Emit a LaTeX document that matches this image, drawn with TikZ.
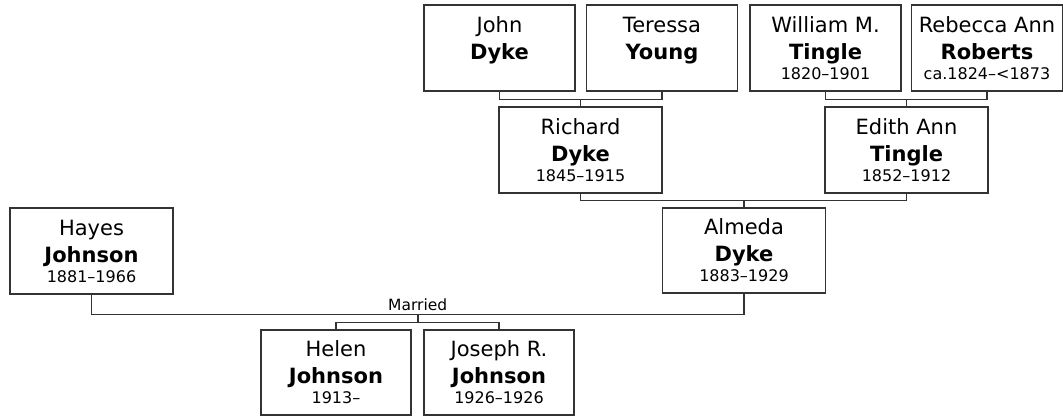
\documentclass[tikz,border=0pt]{standalone}
\usepackage{fontspec}
\setmainfont{DejaVu Sans}
\usetikzlibrary{calc}
\newcommand{\datesz}{\fontsize{16}{20}\selectfont}

\begin{document}
\begin{tikzpicture}[x=1pt,y=-1pt,
  every node/.style={font=\fontsize{21}{27}\selectfont},
  person/.style={draw=black!80,line width=1.4pt,align=center,inner sep=0pt,minimum width=151pt,minimum height=86pt},
  wide/.style={person,minimum width=163pt},
  link/.style={draw=black!80,line width=1.5pt},
  lbl/.style={font=\fontsize{15.5}{18}\selectfont}]
\useasboundingbox (0,0) rectangle (1063,416);
\node[person] (john) at (499.5,48) {John\\\textbf{Dyke}\\[-7pt]\datesz\phantom{0}};
\node[person] (teressa) at (662,48) {Teressa\\\textbf{Young}\\[-7pt]\datesz\phantom{0}};
\node[person] (william) at (825.5,48) {William M.\\\textbf{Tingle}\\[-7pt]\datesz 1820--1901};
\node[person] (rebecca) at (987,48) {Rebecca Ann\\\textbf{Roberts}\\[-7pt]\datesz ca.1824--<1873};
\node[wide] (richard) at (580.5,150) {Richard\\\textbf{Dyke}\\[-7pt]\datesz 1845--1915};
\node[wide] (edith) at (906.5,150) {Edith Ann\\\textbf{Tingle}\\[-7pt]\datesz 1852--1912};
\node[wide,minimum height=85pt] (almeda) at (744,250.5) {Almeda\\\textbf{Dyke}\\[-7pt]\datesz 1883--1929};
\node[wide] (hayes) at (91.5,251) {Hayes\\\textbf{Johnson}\\[-7pt]\datesz 1881--1966};
\node[person,minimum width=150pt,minimum height=85pt] (helen) at (336,372.5) {Helen\\\textbf{Johnson}\\[-7pt]\datesz 1913--};
\node[person,minimum width=150pt,minimum height=85pt] (joseph) at (499,372.5) {Joseph R.\\\textbf{Johnson}\\[-7pt]\datesz 1926--1926};
% parents to children
\draw[link] (john.south) -- ++(0,8) coordinate (b1) -| (teressa.south);
\draw[link] (richard.north) -- (richard.north |- b1);
\draw[link] (william.south) -- ++(0,8) coordinate (b2) -| (rebecca.south);
\draw[link] (edith.north) -- (edith.north |- b2);
\draw[link] (richard.south) -- ++(0,7) coordinate (b3) -| (edith.south);
\draw[link] (almeda.north) -- (almeda.north |- b3);
% marriage
\draw[link] (hayes.south) -- ++(0,20) coordinate (b4) -| (almeda.south);
\coordinate (mid) at ($(b4)!0.5!(almeda.south |- b4)$);
\node[lbl,anchor=base] (married) at ($(mid)+(0,-4)$) {Married};
\draw[link] (mid) -- ++(0,8) coordinate (b5);
\draw[link] (helen.north) |- (b5) -| (joseph.north);
\end{tikzpicture}
\end{document}
